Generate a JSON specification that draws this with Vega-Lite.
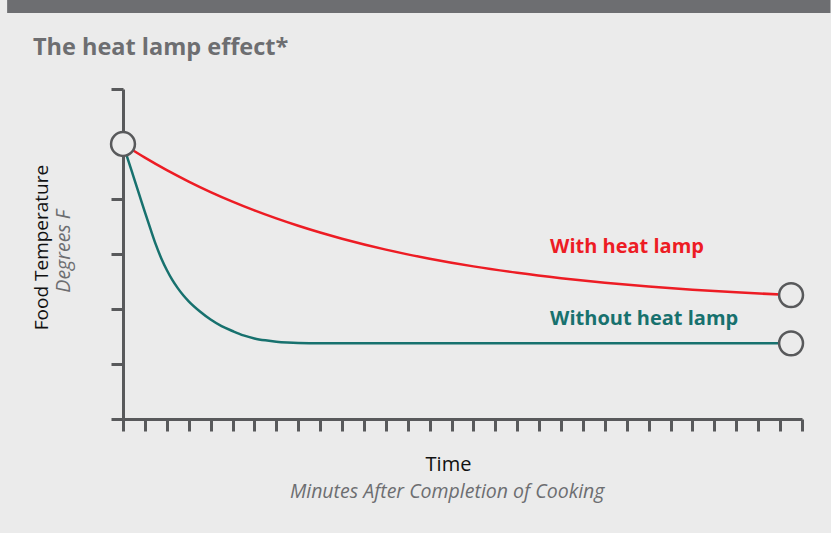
{
  "$schema": "https://vega.github.io/schema/vega-lite/v6.json",
  "width": 679,
  "height": 330,
  "autosize": {"type": "none"},
  "padding": {"left": 123, "top": 89, "right": 29, "bottom": 114},
  "background": "#ebebeb",
  "title": {
    "text": "The heat lamp effect*",
    "anchor": "start",
    "frame": "group",
    "dx": -90,
    "offset": -83,
    "baseline": "alphabetic",
    "fontSize": 23.5,
    "fontWeight": "bold",
    "color": "#6d6e71",
    "font": "Open Sans"
  },
  "config": {"view": {"stroke": null}, "font": "Open Sans"},
  "datasets": {
    "curves": [
      {"series": "With heat lamp", "minutes": 0, "temp": 5},
      {"series": "With heat lamp", "minutes": 1, "temp": 4.752},
      {"series": "With heat lamp", "minutes": 2, "temp": 4.525},
      {"series": "With heat lamp", "minutes": 3, "temp": 4.318},
      {"series": "With heat lamp", "minutes": 4, "temp": 4.127},
      {"series": "With heat lamp", "minutes": 5, "temp": 3.953},
      {"series": "With heat lamp", "minutes": 6, "temp": 3.793},
      {"series": "With heat lamp", "minutes": 7, "temp": 3.647},
      {"series": "With heat lamp", "minutes": 8, "temp": 3.513},
      {"series": "With heat lamp", "minutes": 9, "temp": 3.39},
      {"series": "With heat lamp", "minutes": 10, "temp": 3.278},
      {"series": "With heat lamp", "minutes": 12, "temp": 3.08},
      {"series": "With heat lamp", "minutes": 14, "temp": 2.915},
      {"series": "With heat lamp", "minutes": 16, "temp": 2.775},
      {"series": "With heat lamp", "minutes": 18, "temp": 2.659},
      {"series": "With heat lamp", "minutes": 20, "temp": 2.561},
      {"series": "With heat lamp", "minutes": 22, "temp": 2.478},
      {"series": "With heat lamp", "minutes": 24, "temp": 2.409},
      {"series": "With heat lamp", "minutes": 26, "temp": 2.351},
      {"series": "With heat lamp", "minutes": 28, "temp": 2.303},
      {"series": "With heat lamp", "minutes": 30.5, "temp": 2.253},
      {"series": "Without heat lamp", "minutes": 0, "temp": 5},
      {"series": "Without heat lamp", "minutes": 0.25, "temp": 4.69},
      {"series": "Without heat lamp", "minutes": 0.5, "temp": 4.38},
      {"series": "Without heat lamp", "minutes": 0.75, "temp": 4.07},
      {"series": "Without heat lamp", "minutes": 1.0, "temp": 3.76},
      {"series": "Without heat lamp", "minutes": 1.25, "temp": 3.46},
      {"series": "Without heat lamp", "minutes": 1.5, "temp": 3.17},
      {"series": "Without heat lamp", "minutes": 1.75, "temp": 2.92},
      {"series": "Without heat lamp", "minutes": 2.0, "temp": 2.71},
      {"series": "Without heat lamp", "minutes": 2.25, "temp": 2.53},
      {"series": "Without heat lamp", "minutes": 2.5, "temp": 2.38},
      {"series": "Without heat lamp", "minutes": 2.75, "temp": 2.25},
      {"series": "Without heat lamp", "minutes": 3.0, "temp": 2.14},
      {"series": "Without heat lamp", "minutes": 3.5, "temp": 1.96},
      {"series": "Without heat lamp", "minutes": 4.0, "temp": 1.81},
      {"series": "Without heat lamp", "minutes": 4.5, "temp": 1.69},
      {"series": "Without heat lamp", "minutes": 5.0, "temp": 1.6},
      {"series": "Without heat lamp", "minutes": 5.5, "temp": 1.52},
      {"series": "Without heat lamp", "minutes": 6.0, "temp": 1.465},
      {"series": "Without heat lamp", "minutes": 6.5, "temp": 1.43},
      {"series": "Without heat lamp", "minutes": 7.0, "temp": 1.405},
      {"series": "Without heat lamp", "minutes": 7.5, "temp": 1.39},
      {"series": "Without heat lamp", "minutes": 8.0, "temp": 1.381},
      {"series": "Without heat lamp", "minutes": 9.0, "temp": 1.376},
      {"series": "Without heat lamp", "minutes": 30.5, "temp": 1.376}
    ],
    "endpoints": [
      {"minutes": 0, "temp": 5},
      {"minutes": 30.5, "temp": 2.253},
      {"minutes": 30.5, "temp": 1.376}
    ],
    "labels": [
      {"series": "With heat lamp", "minutes": 19.5, "temp": 3.12},
      {"series": "Without heat lamp", "minutes": 19.5, "temp": 1.82}
    ]
  },
  "encoding": {
    "x": {
      "field": "minutes",
      "type": "quantitative",
      "scale": {"domain": [0, 31], "nice": false, "zero": false},
      "axis": {
        "values": [0,1,2,3,4,5,6,7,8,9,10,11,12,13,14,15,16,17,18,19,20,21,22,23,24,25,26,27,28,29,30,31],
        "tickCount": 40,
        "labels": false,
        "grid": false,
        "tickSize": 12,
        "tickWidth": 3,
        "tickColor": "#58595b",
        "domainWidth": 3,
        "domainColor": "#58595b",
        "title": "Time",
        "titleFont": "Open Sans",
        "titleFontSize": 20,
        "titleFontWeight": "normal",
        "titleColor": "#111111",
        "titlePadding": 22,
        "titleX": 325
      }
    },
    "y": {
      "field": "temp",
      "type": "quantitative",
      "scale": {"domain": [0, 6], "nice": false, "zero": false},
      "axis": {
        "values": [0,1,2,3,4,5,6],
        "tickCount": 10,
        "labels": false,
        "grid": false,
        "tickSize": 12,
        "tickWidth": 3,
        "tickColor": "#58595b",
        "domainWidth": 3,
        "domainColor": "#58595b",
        "title": "Food Temperature",
        "titleFont": "Open Sans",
        "titleFontSize": 19,
        "titleFontWeight": "normal",
        "titleColor": "#111111",
        "titlePadding": 58,
        "titleY": 158
      }
    }
  },
  "layer": [
    {
      "data": {"values": [{"minutes": -5.29, "minutes2": 32.3, "temp": 7.38, "temp2": 7.7}]},
      "mark": {"type": "rect", "color": "#6d6e71", "clip": false},
      "encoding": {
        "x2": {"field": "minutes2"},
        "y2": {"field": "temp2"}
      }
    },
    {
      "data": {"name": "curves"},
      "mark": {"type": "line", "interpolate": "monotone", "strokeWidth": 2.5},
      "encoding": {
        "color": {
          "field": "series",
          "type": "nominal",
          "scale": {"domain": ["With heat lamp", "Without heat lamp"], "range": ["#ed1c24", "#17716e"]},
          "legend": null
        }
      }
    },
    {
      "data": {"name": "endpoints"},
      "mark": {"type": "point", "shape": "circle", "filled": true, "fill": "#ebebeb", "stroke": "#58595b", "strokeWidth": 2.5, "size": 570, "opacity": 1}
    },
    {
      "data": {"name": "labels"},
      "mark": {"type": "text", "align": "left", "baseline": "middle", "fontSize": 20, "fontWeight": "bold", "font": "Open Sans"},
      "encoding": {
        "text": {"field": "series"},
        "color": {"field": "series", "type": "nominal", "legend": null}
      }
    },
    {
      "data": {"values": [{"label": "Minutes After Completion of Cooking", "minutes": 14.8, "temp": -1.33}]},
      "mark": {"type": "text", "align": "center", "baseline": "middle", "fontSize": 19.5, "fontStyle": "italic", "color": "#6d6e71", "font": "Open Sans", "clip": false},
      "encoding": {
        "text": {"field": "label"}
      }
    },
    {
      "data": {"values": [{"label": "Degrees F", "minutes": -2.69, "temp": 3.05}]},
      "mark": {"type": "text", "align": "center", "baseline": "middle", "angle": 270, "fontSize": 19.5, "fontStyle": "italic", "color": "#6d6e71", "font": "Open Sans", "clip": false},
      "encoding": {
        "text": {"field": "label"}
      }
    }
  ]
}
